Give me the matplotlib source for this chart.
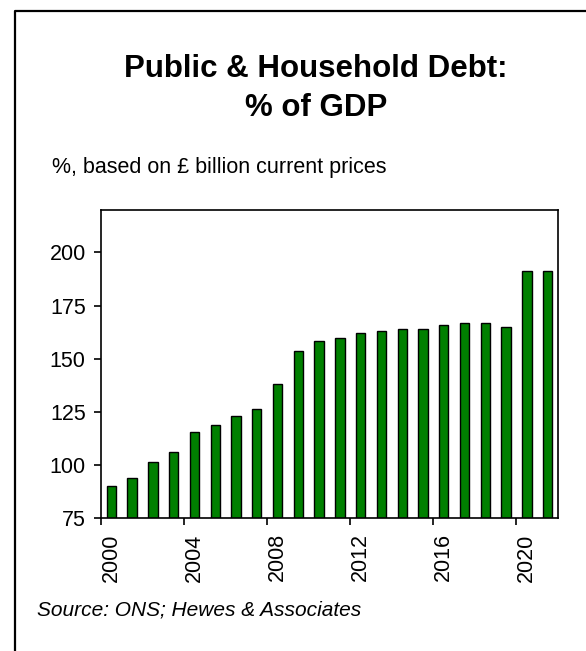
import matplotlib.pyplot as plt
from matplotlib.lines import Line2D

years = list(range(2000, 2022))
debt_pct = [90.0, 93.8, 101.2, 105.9, 115.3, 119.0, 122.8, 126.5, 138.0, 153.6, 158.5,
            159.6, 162.1, 163.2, 164.1, 164.1, 166.0, 166.9, 166.9, 165.1, 191.4, 191.4]
y_ticks = [75, 100, 125, 150, 175, 200]
label_years = [2000, 2004, 2008, 2012, 2016, 2020]

plt.rcParams['font.family'] = ['Liberation Sans', 'DejaVu Sans']

W, H = 586, 651
fig = plt.figure(figsize=(W / 100, H / 100), dpi=100)
ax = fig.add_axes([101 / W, 1 - 518 / H, 457 / W, 308 / H])

x = list(range(len(years)))
ax.bar(x, debt_pct, width=0.45, color='#008000', edgecolor='black', linewidth=1.0)

ax.set_xlim(-0.5, len(years) - 0.5)
ax.set_ylim(75, 220)
ax.set_yticks(y_ticks)
ax.set_yticklabels([str(v) for v in y_ticks], fontsize=15.5)

# ticks between categories, labels on the category itself (Excel style)
ax.set_xticks([i - 0.5 for i in range(0, len(years), 4)])
ax.set_xticklabels([])
ax.set_xticks([years.index(y) for y in label_years], minor=True)
ax.set_xticklabels([str(y) for y in label_years], minor=True, rotation=90, fontsize=15.5)
ax.tick_params(axis='x', which='minor', length=0, pad=11)
ax.tick_params(axis='x', which='major', length=5, width=1.2, direction='out')
ax.tick_params(axis='y', length=5, width=1.2, direction='out', pad=6)

for s in ax.spines.values():
    s.set_linewidth(1.2)

fig.text(316 / W, 1 - 77 / H, 'Public & Household Debt:', ha='center', va='baseline',
         fontsize=22.5, fontweight='bold')
fig.text(316 / W, 1 - 116 / H, '% of GDP', ha='center', va='baseline',
         fontsize=22.5, fontweight='bold')
fig.text(52 / W, 1 - 173 / H, '%, based on £ billion current prices', ha='left', va='baseline',
         fontsize=15.5)
fig.text(37 / W, 1 - 616 / H, 'Source: ONS; Hewes & Associates', ha='left', va='baseline',
         fontsize=15, style='italic')

# outer frame (left and top edges visible)
fig.add_artist(Line2D([15 / W, 15 / W, 1], [0, 1 - 11 / H, 1 - 11 / H],
                      transform=fig.transFigure, color='black', linewidth=1.6))

fig.savefig('out.png', dpi=100)
